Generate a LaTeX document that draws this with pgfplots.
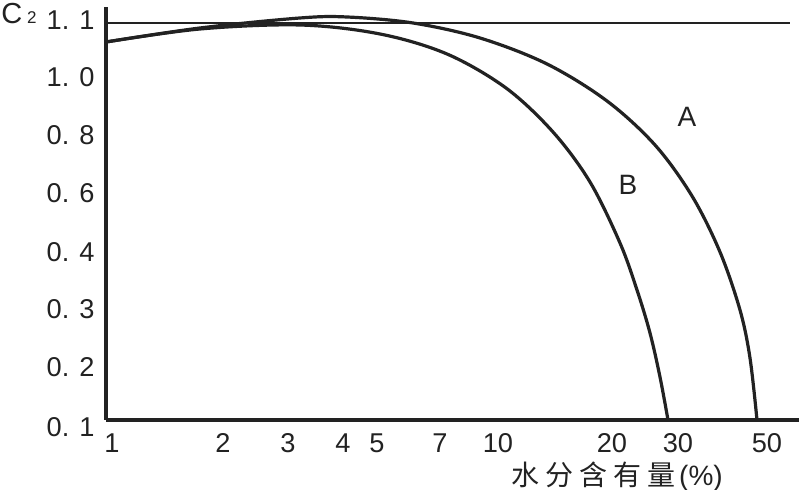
\documentclass[border=0pt]{standalone}
\usepackage{fontspec}
\setmainfont{Liberation Sans}
\newfontfamily\cjk{Noto Sans CJK SC}
\usepackage{pgfplots}
\pgfplotsset{compat=1.18}
\definecolor{ink}{HTML}{222222}
\begin{document}
\begin{tikzpicture}
\begin{axis}[
 x=0.5pt, y=0.5pt,
 xmin=106, xmax=799, ymin=70, ymax=483,
 axis x line=bottom, axis y line=left,
 axis line style={-, line width=1.7pt, ink},
 xtick={112,223,288,343,377,440,498,612,678,767},
 xticklabels={1,2,3,4,5,7,10,20,30,50},
 ytick={470,413,355,297,238,181,123,70},
 yticklabels={1. 1,1. 0,0. 8,0. 6,0. 4,0. 3,0. 2,\raisebox{-3.5pt}[\height][\depth]{0. 1}},
 major tick length=0pt,
 tick style={draw=none},
 ticklabel style={font=\fontsize{13.6}{16}\selectfont, text=ink},
 xticklabel style={anchor=center, yshift=-11.5pt},
 yticklabel style={anchor=east, inner sep=2pt, xshift=-3.5pt},
 clip=false,
]
\coordinate (ll) at (axis cs:0,0);
\coordinate (ur) at (axis cs:800,490);
% reference line C2 = 1.1
\addplot[ink, line width=0.9pt] coordinates {(106,467) (790,467)};
% curve A
\addplot[ink, line width=1.6pt, smooth, tension=0.55] coordinates {
(106,448) (200,462) (300,472) (347,473) (413,467) (480,452) (547,426)
(607,389) (655,345) (692,294) (720,238) (740,180) (750,132) (757,70)};
% curve B
\addplot[ink, line width=1.6pt, smooth, tension=0.55] coordinates {
(106,448) (200,461) (300,465) (380,456) (447,436) (506,402) (553,358)
(590,308) (620,247) (637,200) (650,157) (660,113) (668,70)};
\node[font=\fontsize{14}{16}\selectfont, text=ink] at (axis cs:687,373) {A};
\node[font=\fontsize{14}{16}\selectfont, text=ink] at (axis cs:628,305) {B};
\node[anchor=base west, font=\fontsize{14.5}{16}\selectfont, text=ink, inner sep=0pt] at (axis cs:1,466) {C\,{\fontsize{8.5}{10}\selectfont 2}};
\node[text=ink, font=\fontsize{14}{16}\selectfont] at (axis cs:617,13) {{\cjk 水\hspace{3pt}分\hspace{3pt}含\hspace{3pt}有\hspace{3pt}量}\hspace{2pt}(\%)};
\end{axis}
\pgfresetboundingbox
\path[use as bounding box] (ll) rectangle (ur);
\end{tikzpicture}
\end{document}
